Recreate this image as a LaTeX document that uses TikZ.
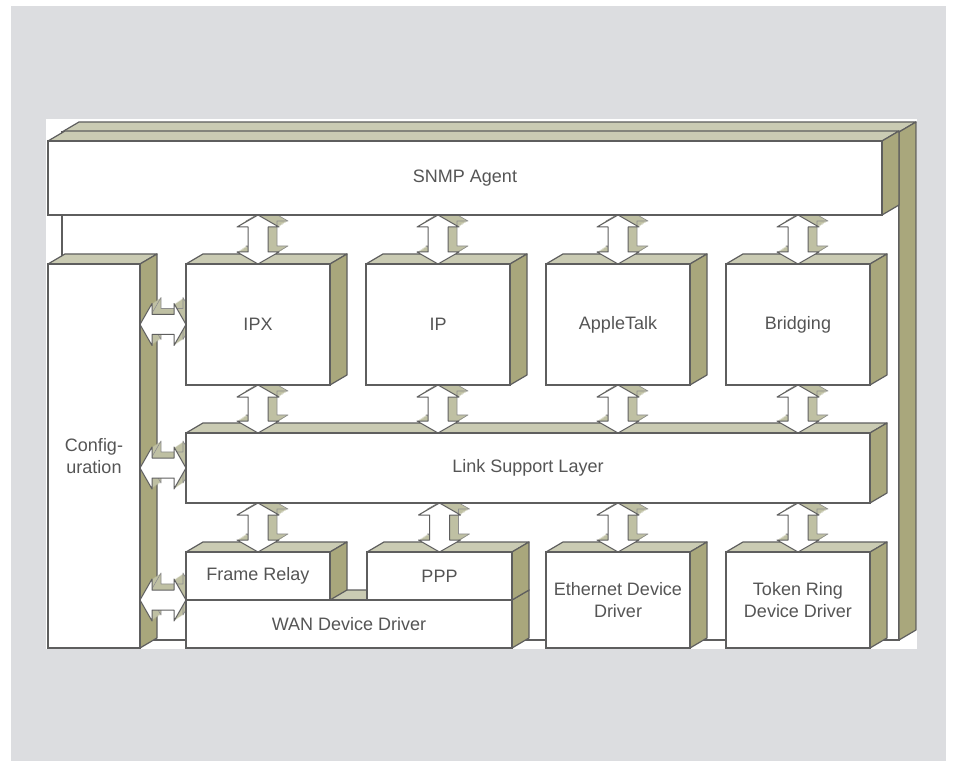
\documentclass[tikz,border=0pt]{standalone}
\usepackage{fontspec}
\setmainfont{Liberation Sans}
\usetikzlibrary{calc}
\pgfdeclarelayer{lay0}
\pgfdeclarelayer{lay1}
\pgfdeclarelayer{lay2}
\pgfsetlayers{lay0,lay1,lay2,main}
\definecolor{bggray}{HTML}{DCDDE0}
\definecolor{topc}{HTML}{CACBB3}
\definecolor{sidec}{HTML}{A9A77C}
\definecolor{arrc}{HTML}{BFC0A3}
\definecolor{edgec}{HTML}{5E5E5E}
\definecolor{textc}{HTML}{555555}
\tikzset{
  front/.style={draw=edgec, line width=1.2pt, fill=white, inner sep=0pt, outer sep=0pt,
    text=textc, font=\fontsize{18}{22}\selectfont, align=center},
  topface/.style={fill=topc, draw=edgec, line width=1.2pt, line join=round},
  sideface/.style={fill=sidec, draw=edgec, line width=1.2pt, line join=round},
  arrfront/.style={draw=edgec, line width=1pt, fill=white, line join=round},
  arrback/.style={draw=edgec!70, line width=0.6pt, line join=round},
}
\newcommand{\boxfaces}[1]{%
  \draw[topface] (#1.north west) -- ++(17,-10) -- ($(#1.north east)+(17,-10)$) -- (#1.north east) -- cycle;
  \draw[sideface] (#1.north east) -- ++(17,-10) -- ($(#1.south east)+(17,-10)$) -- (#1.south east) -- cycle;
}
\newcommand{\varrowpath}[2]{($(qa)+(#1,-#2)$) -- ($(qa)+({21+#1},{12-#2})$) -- ($(qa)+({10+#1},{12-#2})$) -- ($(qb)+({10+#1},{-12-#2})$) -- ($(qb)+({21+#1},{-12-#2})$) -- ($(qb)+(#1,-#2)$) -- ($(qb)+({-21+#1},{-12-#2})$) -- ($(qb)+({-10+#1},{-12-#2})$) -- ($(qa)+({-10+#1},{12-#2})$) -- ($(qa)+({-21+#1},{12-#2})$) -- cycle}
\newcommand{\harrowpath}[2]{($(qa)+(#1,-#2)$) -- ($(qa)+({12+#1},{-21-#2})$) -- ($(qa)+({12+#1},{-10-#2})$) -- ($(qb)+({-12+#1},{-10-#2})$) -- ($(qb)+({-12+#1},{-21-#2})$) -- ($(qb)+(#1,-#2)$) -- ($(qb)+({-12+#1},{21-#2})$) -- ($(qb)+({-12+#1},{10-#2})$) -- ($(qa)+({12+#1},{10-#2})$) -- ($(qa)+({12+#1},{21-#2})$) -- cycle}
\newcommand{\varr}[2]{%
  \coordinate (qa) at #1; \coordinate (qb) at #2;
  \begin{pgfonlayer}{lay2}
    \foreach \s in {1,...,9} {\fill[arrc] \varrowpath{\s}{0.67*\s};}
    \draw[arrback] \varrowpath{9}{6};
    \draw[arrfront] \varrowpath{0}{0};
  \end{pgfonlayer}}
\newcommand{\harr}[2]{%
  \coordinate (qa) at #1; \coordinate (qb) at #2;
  \begin{pgfonlayer}{lay2}
    \foreach \s in {1,...,9} {\fill[arrc] \harrowpath{\s}{0.67*\s};}
    \draw[arrback] \harrowpath{9}{6};
    \draw[arrfront] \harrowpath{0}{0};
  \end{pgfonlayer}}
\begin{document}
\begin{tikzpicture}[x=1pt,y=-1pt]
\useasboundingbox (0,0) rectangle (956,767);
\begin{pgfonlayer}{lay0}
  \fill[white] (0,0) rectangle (956,767);
  \fill[bggray] (11,6) rectangle (946,761);
  \fill[white] (46,119) rectangle (917,649);
  \node[front, minimum width=837pt, minimum height=508pt] (sys) at (480.5,386) {};
  \boxfaces{sys}
\end{pgfonlayer}
% front faces
\node[front, minimum width=834pt, minimum height=74pt] (snmp) at (465,178) {SNMP Agent};
\node[front, minimum width=92pt, minimum height=384pt] (cfg) at (94,456) {Config-\\uration};
\node[front, minimum width=144pt, minimum height=121pt] (ipx) at (258,324.5) {IPX};
\node[front, minimum width=144pt, minimum height=121pt] (ip) at (438,324.5) {IP};
\node[front, minimum width=144pt, minimum height=121pt] (atk) at (618,324.5) {AppleTalk};
\node[front, minimum width=144pt, minimum height=121pt] (brg) at (798,324.5) {Bridging};
\node[front, minimum width=684pt, minimum height=70pt] (lsl) at (528,468) {Link Support Layer};
\node[front, minimum width=326pt, minimum height=48pt] (wan) at (349,624) {WAN Device Driver};
\node[front, minimum width=144pt, minimum height=48pt] (fr) at (258,576) {Frame Relay};
\node[front, minimum width=145pt, minimum height=48pt] (ppp) at (439.5,576) {PPP};
\node[front, minimum width=144pt, minimum height=96pt] (eth) at (618,600) {Ethernet Device\\Driver};
\node[front, minimum width=144pt, minimum height=96pt] (tok) at (798,600) {Token Ring\\Device Driver};
% side faces
\begin{pgfonlayer}{lay1}
  \boxfaces{snmp}
  \boxfaces{cfg}
  \boxfaces{ipx}
  \boxfaces{ip}
  \boxfaces{atk}
  \boxfaces{brg}
  \boxfaces{lsl}
  \boxfaces{wan}
  \boxfaces{fr}
  \boxfaces{ppp}
  \boxfaces{eth}
  \boxfaces{tok}
\end{pgfonlayer}
% arrows
\varr{(snmp.south -| ipx.north)}{(ipx.north)}
\varr{(snmp.south -| ip.north)}{(ip.north)}
\varr{(snmp.south -| atk.north)}{(atk.north)}
\varr{(snmp.south -| brg.north)}{(brg.north)}
\varr{(ipx.south)}{(ipx.south |- lsl.north)}
\varr{(ip.south)}{(ip.south |- lsl.north)}
\varr{(atk.south)}{(atk.south |- lsl.north)}
\varr{(brg.south)}{(brg.south |- lsl.north)}
\varr{(lsl.south -| fr.north)}{(fr.north)}
\varr{(lsl.south -| ppp.north)}{(ppp.north)}
\varr{(lsl.south -| eth.north)}{(eth.north)}
\varr{(lsl.south -| tok.north)}{(tok.north)}
\harr{(cfg.east |- ipx.west)}{(ipx.west)}
\harr{(cfg.east |- lsl.west)}{(lsl.west)}
\harr{(cfg.east |- wan.north west)}{(wan.north west)}
\end{tikzpicture}
\end{document}
